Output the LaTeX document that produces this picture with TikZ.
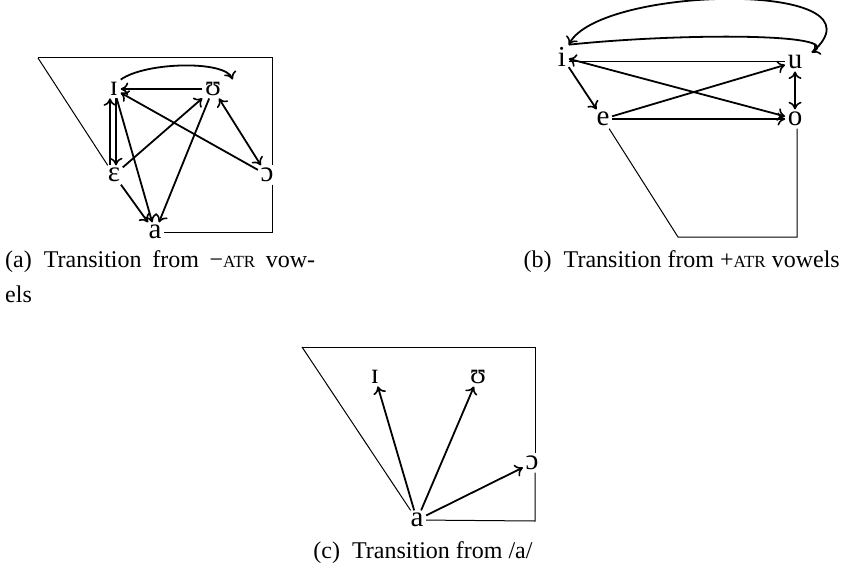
\documentclass[tikz,border=0pt]{standalone}
\usepackage{fontspec}
\setmainfont{Liberation Serif}
\usetikzlibrary{arrows.meta}
\newcommand\smcp[1]{{\fontsize{17}{17}\selectfont #1}}
\begin{document}
\begin{tikzpicture}[x=1pt,y=-1pt,
  >={Computer Modern Rightarrow[length=7.5pt,width=13pt,line width=1.6pt]},
  v/.style={font=\fontsize{29}{29}\selectfont, inner sep=2.5pt},
  arr/.style={->, line width=1.8pt},
  frame/.style={line width=1pt},
  captxt/.style={font=\fontsize{24}{30}\selectfont, inner sep=0pt, align=left}]
\useasboundingbox (0,0) rectangle (842,567);
% ---------- panel (a)
\node[v] (aI) at (114,89) {ɪ};
\node[v] (aU) at (213,89) {ʊ};
\node[v] (aE) at (114,175) {ɛ};
\node[v] (aO) at (267,175) {ɔ};
\node[v] (aA) at (155,232) {a};
\coordinate (aTL) at (38,58);
\coordinate (aTR) at (272,58);
\coordinate (aBR) at (272,232);
\draw[frame] (aTL) -- (aE);
\draw[frame] (aTL) -- (aTR) -- (aTR |- aO.north);
\draw[frame] (aTR |- aO.south) -- (aBR) -- (aA);
\draw[arr] (aI.north east) .. controls (145,62) and (225,60) .. ([xshift=9pt]aU.north east);
\draw[arr] (aU) -- (aI);
\draw[arr] ([xshift=-4pt]aE.north) -- ([xshift=-4pt]aI.south);
\draw[arr] ([xshift=2pt]aI.south) -- ([xshift=2pt]aE.north);
\draw[arr] (aI) -- (aA);
\draw[arr] (aE) -- (aA);
\draw[arr] (aU) -- (aA);
\draw[arr] (aE) -- (aU);
\draw[arr] (aO) -- (aI);
\draw[arr,<->] (aU) -- (aO);
\node[captxt, anchor=base west] (capa) at (5,267) {\makebox[310pt][s]{(a)\enspace Transition from −\smcp{ATR} vow-}};
\node[captxt, anchor=base west] (capa2) at (5,302) {els};
% ---------- panel (b)
\node[v] (bI) at (562,57) {i};
\node[v] (bU) at (795,62) {u};
\node[v] (bE) at (603,119) {e};
\node[v] (bO) at (795,119) {o};
\coordinate (bBR) at (797,237);
\coordinate (bBL) at (678,237);
\draw[frame] (bI.east |- bU.west) -- (bU.west);
\draw[frame] (bO.south -| bBR) -- (bBR) -- (bBL) -- (bE);
\draw[arr] (bI) -- (bE);
\draw[arr] (bE) -- (bU);
\draw[arr] (bE) -- (bO);
\draw[arr,<->] (bI) -- (bO);
\draw[arr,<->] (bU) -- (bO);
\draw[arr] (bI.north east) .. controls (680,33) and (845,33) .. ([xshift=7pt]bU.north east);
\draw[arr] ([xshift=7pt]bU.north east) .. controls (895,-20) and (600,-15) .. (bI.north east);
\node[captxt, anchor=base east] (capb) at (840,267) {(b)\enspace Transition from +\smcp{ATR} vowels};
% ---------- panel (c)
\node[v] (cI) at (375,377) {ɪ};
\node[v] (cU) at (478,377) {ʊ};
\node[v] (cO) at (532,463) {ɔ};
\node[v] (cA) at (417,520) {a};
\coordinate (cTL) at (302,347);
\coordinate (cTR) at (535,347);
\coordinate (cBR) at (535,521);
\draw[frame] (cTL) -- (cA);
\draw[frame] (cTL) -- (cTR) -- (cTR |- cO.north);
\draw[frame] (cTR |- cO.south) -- (cBR) -- (cA);
\draw[arr] (cA) -- (cI);
\draw[arr] (cA) -- (cU);
\draw[arr] (cA) -- (cO);
\node[captxt, anchor=base] (capc) at (423,558) {(c)\enspace Transition from /a/};
\end{tikzpicture}
\end{document}
